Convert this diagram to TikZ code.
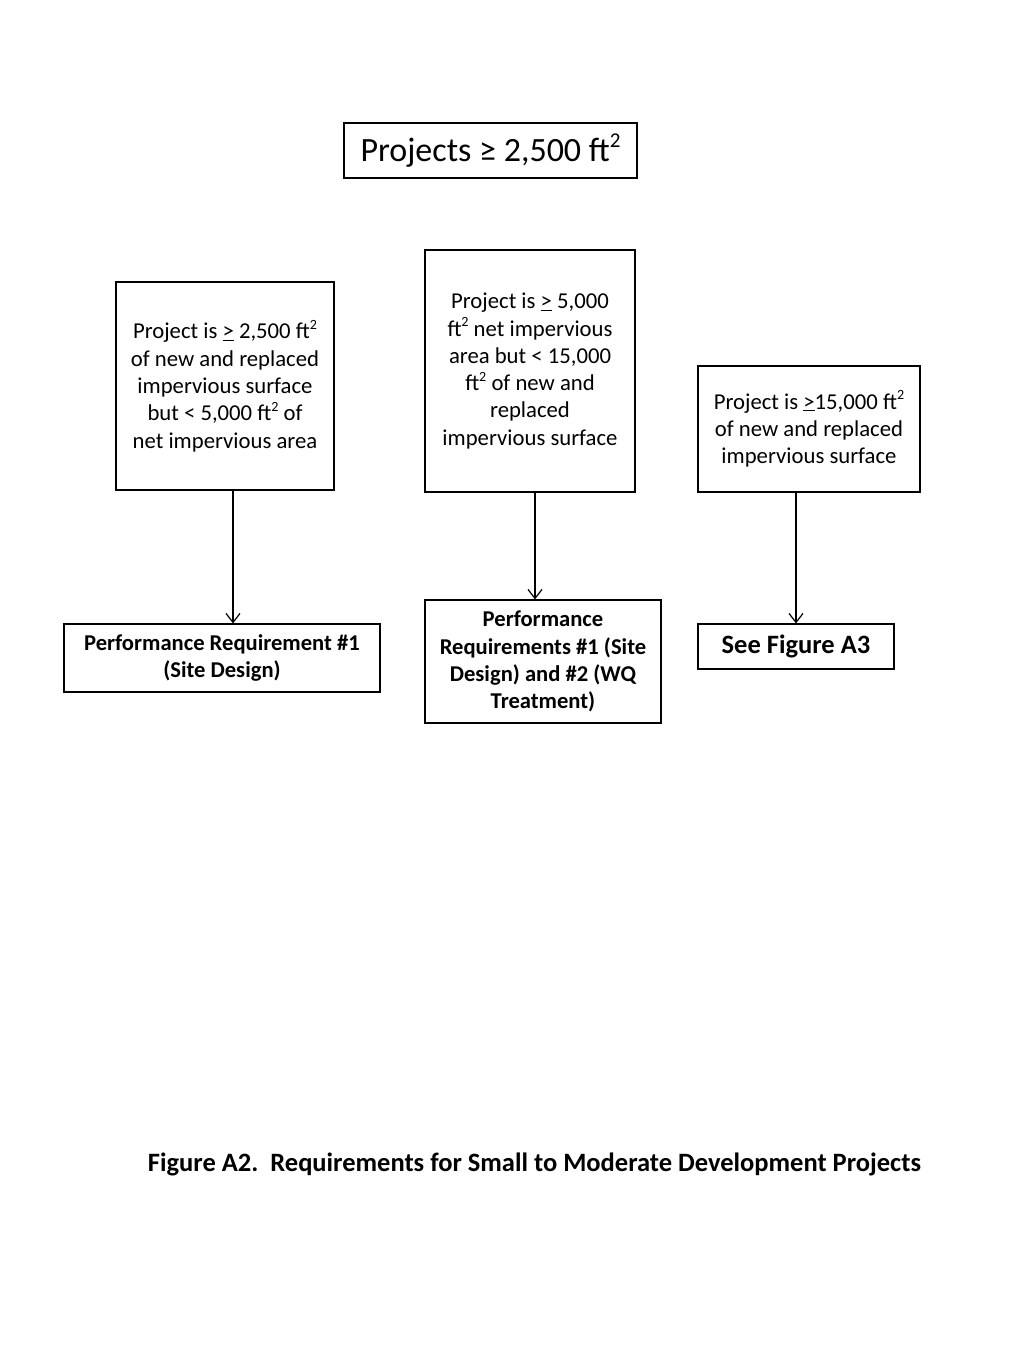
\documentclass[tikz,border=0pt]{standalone}
\usepackage{fontspec}
\setmainfont{Carlito}
\usetikzlibrary{arrows.meta}
\newcommand\sqtwo{\raisebox{0.42em}{\scalebox{0.62}{2}}}
\begin{document}
\begin{tikzpicture}[x=1pt,y=-1pt,
  box/.style={draw,line width=1.2pt,inner sep=0pt,align=center,font=\fontsize{22.7}{27.3}\selectfont},
  bbox/.style={box,font=\fontsize{22.6}{27.3}\selectfont\bfseries},
  arr/.style={line width=1.2pt,-{Straight Barb[length=9pt,width=14pt,line width=1.2pt]}}]
\useasboundingbox (0,0) rectangle (1024,1365);
\node[box,minimum width=293pt,minimum height=55pt,font=\fontsize{34}{38}\selectfont] (top) at (490.5,150.5) {Projects ≥ 2,500 ft\sqtwo};
\node[box,minimum width=218pt,minimum height=208pt] (A) at (225,386)
  {Project is \underline{>} 2,500 ft\sqtwo\\of new and replaced\\impervious surface\\but < 5,000 ft\sqtwo{} of\\net impervious area};
\node[box,minimum width=210pt,minimum height=242pt] (B) at (530,371)
  {Project is \underline{>} 5,000\\ft\sqtwo{} net impervious\\area but < 15,000\\ft\sqtwo{} of new and\\replaced\\impervious surface};
\node[box,minimum width=222pt,minimum height=126pt] (C) at (809,429)
  {Project is \underline{>}15,000 ft\sqtwo\\of new and replaced\\impervious surface};
\node[bbox,minimum width=316pt,minimum height=68pt] (D) at (222,658)
  {Performance Requirement \#1\\(Site Design)};
\node[bbox,minimum width=236pt,minimum height=123pt] (E) at (543,661.5)
  {Performance\\Requirements \#1 (Site\\Design) and \#2 (WQ\\Treatment)};
\node[bbox,minimum width=196pt,minimum height=45pt,font=\fontsize{26.5}{30}\selectfont\bfseries] (F) at (796,646.5)
  {See Figure A3};
\draw[arr] ([xshift=8pt]A.south) -- ([xshift=11pt]D.north);
\draw[arr] ([xshift=5pt]B.south) -- ([xshift=-8pt]E.north);
\draw[arr] ([xshift=-13pt]C.south) -- (F.north);
\node[font=\fontsize{26.5}{30}\selectfont\bfseries,inner sep=0pt] (cap) at (534.5,1164)
  {Figure A2.\ \ Requirements for Small to Moderate Development Projects};
\end{tikzpicture}
\end{document}
